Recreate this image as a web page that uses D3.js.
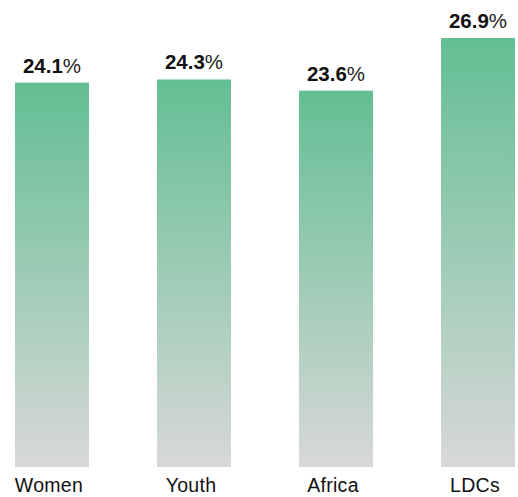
<!DOCTYPE html>
<html>
<head>
<meta charset="utf-8">
<script src="https://cdn.jsdelivr.net/npm/d3@7"></script>
<style>
  html, body { margin: 0; padding: 0; background: #fff; }
  svg { display: block; }
</style>
</head>
<body>
<svg id="chart" width="518" height="497"></svg>
<script>
const categories = ["Women", "Youth", "Africa", "LDCs"];
const values = [24.1, 24.3, 23.6, 26.9];

const svg = d3.select("#chart");

const x = d3.scaleBand()
  .domain(categories)
  .range([15, 515])
  .paddingInner(0.479)
  .paddingOuter(0);

const y = d3.scaleLinear()
  .domain([0, 26.9])
  .range([467, 38]);

const defs = svg.append("defs");
const grad = defs.append("linearGradient")
  .attr("id", "barGrad")
  .attr("x1", 0).attr("y1", 0).attr("x2", 0).attr("y2", 1);
grad.append("stop").attr("offset", "0%").attr("stop-color", "#63bf92");
grad.append("stop").attr("offset", "100%").attr("stop-color", "#d8d8d8");

const data = categories.map((c, i) => ({ c, v: values[i] }));

svg.selectAll("rect.bar")
  .data(data)
  .join("rect")
  .attr("class", "bar")
  .attr("x", d => x(d.c))
  .attr("y", d => y(d.v))
  .attr("width", x.bandwidth())
  .attr("height", d => y(0) - y(d.v))
  .attr("fill", "url(#barGrad)");

const labels = svg.selectAll("text.val")
  .data(data)
  .join("text")
  .attr("class", "val")
  .attr("x", d => x(d.c) + x.bandwidth() / 2)
  .attr("y", d => y(d.v) - 10)
  .attr("text-anchor", "middle")
  .attr("font-family", "'Liberation Sans', Arial, sans-serif")
  .attr("fill", "#111");
labels.append("tspan")
  .attr("font-weight", "bold")
  .attr("font-size", 20.5)
  .text(d => d.v.toFixed(1));
labels.append("tspan")
  .attr("font-weight", "normal")
  .attr("font-size", 20.5)
  .attr("fill", "#222")
  .text("%");

const xAxis = d3.axisBottom(x).tickSize(0).tickPadding(0);
const gx = svg.append("g")
  .attr("transform", `translate(0, ${y(0)})`)
  .call(xAxis);
gx.select(".domain").remove();
gx.selectAll(".tick text")
  .attr("dy", null)
  .attr("y", 25)
  .attr("x", -3)
  .attr("font-family", "'Liberation Sans', Arial, sans-serif")
  .attr("font-size", 19.5)
  .attr("letter-spacing", 0.3)
  .attr("fill", "#111");
</script>
</body>
</html>
